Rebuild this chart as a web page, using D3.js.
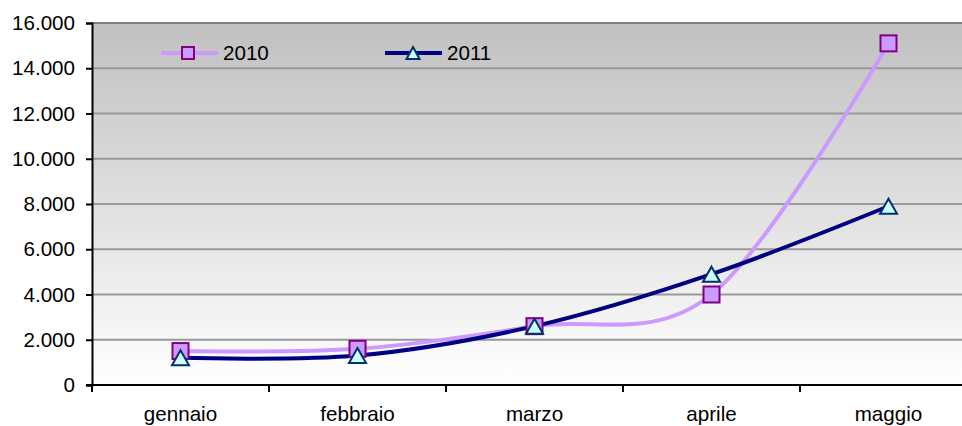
<!DOCTYPE html>
<html>
<head>
<meta charset="utf-8">
<script src="https://cdn.jsdelivr.net/npm/d3@7"></script>
<style>
  html, body { margin: 0; padding: 0; background: #fff; }
  svg { display: block; font-family: "Liberation Sans", Arial, sans-serif; }
</style>
</head>
<body>
<svg id="chart" width="962" height="426"></svg>
<script>
const months = ["gennaio", "febbraio", "marzo", "aprile", "maggio"];
const series2010 = [1500, 1600, 2600, 4000, 15100];
const series2011 = [1200, 1300, 2600, 4900, 7900];
const yTicks = [0, 2000, 4000, 6000, 8000, 10000, 12000, 14000, 16000];
const seriesNames = ["2010", "2011"];

(function () {
const svg = d3.select("#chart");
const pLeft = 92, pTop = 23, pBottom = 385, bandW = 177;
const pRight = pLeft + bandW * months.length;
const FS = 20.6;

const it = d3.formatLocale({decimal: ",", thousands: ".", grouping: [3], currency: ["€", ""]});
const fmt = it.format(",");

const x = d3.scaleBand().domain(months).range([pLeft, pRight]).padding(0);
const xc = d => x(d) + x.bandwidth() / 2;
const y = d3.scaleLinear().domain([0, 16000]).range([pBottom, pTop]);

// gradient background
const defs = svg.append("defs");
const grad = defs.append("linearGradient").attr("id", "bg").attr("x1", 0).attr("y1", 0).attr("x2", 0).attr("y2", 1);
grad.append("stop").attr("offset", "0%").attr("stop-color", "#c0c0c0");
grad.append("stop").attr("offset", "100%").attr("stop-color", "#ffffff");

svg.append("rect").attr("x", pLeft).attr("y", pTop).attr("width", pRight - pLeft).attr("height", pBottom - pTop)
  .attr("fill", "url(#bg)");

// gridlines
svg.append("g").selectAll("line").data(yTicks.filter(v => v > 0)).join("line")
  .attr("x1", pLeft).attr("x2", pRight)
  .attr("y1", d => y(d)).attr("y2", d => y(d))
  .attr("stroke", d => d === 16000 ? "#808080" : "#999999")
  .attr("stroke-width", 2);

// y axis
const yAxis = svg.append("g").attr("transform", `translate(${pLeft},0)`)
  .call(d3.axisLeft(y).tickValues(yTicks).tickFormat(fmt).tickSize(6).tickPadding(11));
yAxis.select(".domain").attr("stroke", "#000").attr("stroke-width", 2);
yAxis.selectAll(".tick line").attr("stroke", "#000").attr("stroke-width", 2);
yAxis.selectAll("text").attr("font-size", FS).attr("fill", "#000")
  .attr("font-family", "Liberation Sans, Arial, sans-serif");

// x axis: ticks at band boundaries, labels at centers
const xb = svg.append("g").attr("transform", `translate(0,${pBottom})`);
const bounds = d3.range(months.length + 1).map(i => pLeft + i * x.step());
xb.append("line").attr("x1", pLeft - 6).attr("x2", pRight).attr("y1", 0).attr("y2", 0)
  .attr("stroke", "#000").attr("stroke-width", 2);
xb.selectAll("line.tk").data(bounds).join("line").attr("class", "tk")
  .attr("x1", d => d).attr("x2", d => d).attr("y1", 0).attr("y2", 7)
  .attr("stroke", "#000").attr("stroke-width", 2);
xb.selectAll("text").data(months).join("text")
  .attr("x", d => xc(d)).attr("y", 36)
  .attr("text-anchor", "middle").attr("font-size", FS).attr("fill", "#000")
  .text(d => d);

// lines
const line = d3.line().x((d, i) => xc(months[i])).y(d => y(d)).curve(d3.curveCardinal.tension(0));

svg.append("path").datum(series2010).attr("d", line)
  .attr("fill", "none").attr("stroke", "#cc99ff").attr("stroke-width", 4);
svg.append("path").datum(series2011).attr("d", line)
  .attr("fill", "none").attr("stroke", "#000080").attr("stroke-width", 4);

function square(g, cx, cy, s) {
  g.append("rect").attr("x", cx - s / 2).attr("y", cy - s / 2).attr("width", s).attr("height", s)
    .attr("fill", "#cc99ff").attr("stroke", "#800080").attr("stroke-width", 2);
}
function triangle(g, cx, cy, w, h) {
  g.append("path").attr("d", `M${cx},${cy - h / 2}L${cx + w / 2},${cy + h / 2}L${cx - w / 2},${cy + h / 2}Z`)
    .attr("fill", "#ccffff").attr("stroke", "#003366").attr("stroke-width", 2).attr("stroke-linejoin", "miter");
}

const m2010 = svg.append("g");
series2010.forEach((v, i) => square(m2010, xc(months[i]), y(v), 16));
const m2011 = svg.append("g");
series2011.forEach((v, i) => triangle(m2011, xc(months[i]), y(v), 17, 15));

// legend
const lg = svg.append("g");
lg.append("line").attr("x1", 161).attr("x2", 218).attr("y1", 53).attr("y2", 53)
  .attr("stroke", "#cc99ff").attr("stroke-width", 4);
square(lg, 188, 53, 12);
lg.append("text").attr("x", 223).attr("y", 60).attr("font-size", FS).text(seriesNames[0]);
lg.append("line").attr("x1", 385).attr("x2", 442).attr("y1", 53).attr("y2", 53)
  .attr("stroke", "#000080").attr("stroke-width", 4);
triangle(lg, 413, 53, 13, 12);
lg.append("text").attr("x", 447).attr("y", 60).attr("font-size", FS).text(seriesNames[1]);
})();
</script>
</body>
</html>
